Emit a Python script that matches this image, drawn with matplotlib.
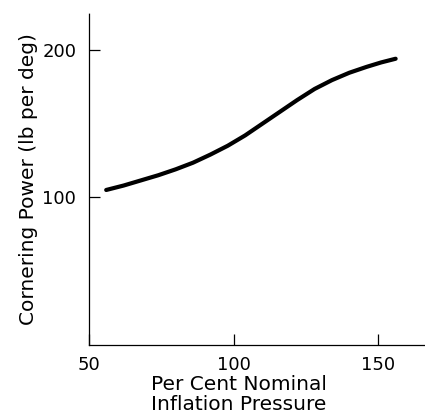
import matplotlib.pyplot as plt

# valeurs
pressure = [56, 62, 68, 74, 80, 86, 92, 98, 104, 110, 116, 122, 128, 134, 140, 146, 151, 156]
cornering = [105, 108, 111.5, 115, 119, 123.5, 129, 135, 142, 150, 158, 166, 173.5, 179.5, 184.5, 188.5, 191.5, 194]

x_ticks = [50, 100, 150]
y_ticks = [100, 200]

fig = plt.figure(figsize=(4.25, 4.2), dpi=100)
ax = fig.add_axes([0.209, 0.179, 0.79, 0.79])

ax.plot(pressure, cornering, color="black", linewidth=3, solid_capstyle="round")

ax.set_xlim(50, 166)
ax.set_ylim(0, 225)
ax.set_xticks(x_ticks)
ax.set_yticks(y_ticks)
ax.tick_params(direction="in", length=8, width=0.9, labelsize=13)
ax.tick_params(axis="y", pad=9)
ax.tick_params(axis="x", pad=8)

for side in ["top", "right"]:
    ax.spines[side].set_visible(False)
for side in ["left", "bottom"]:
    ax.spines[side].set_linewidth(0.9)
    ax.spines[side].set_linestyle((0, (6, 1)))

ax.set_ylabel("Cornering Power (lb per deg)", fontsize=14.5)
ax.yaxis.set_label_coords(-0.15, 0.5)
ax.set_xlabel("Per Cent Nominal\nInflation Pressure", fontsize=14.5, linespacing=1.1)
ax.xaxis.set_label_coords(0.447, -0.09)

fig.savefig("out.png", dpi=100)
